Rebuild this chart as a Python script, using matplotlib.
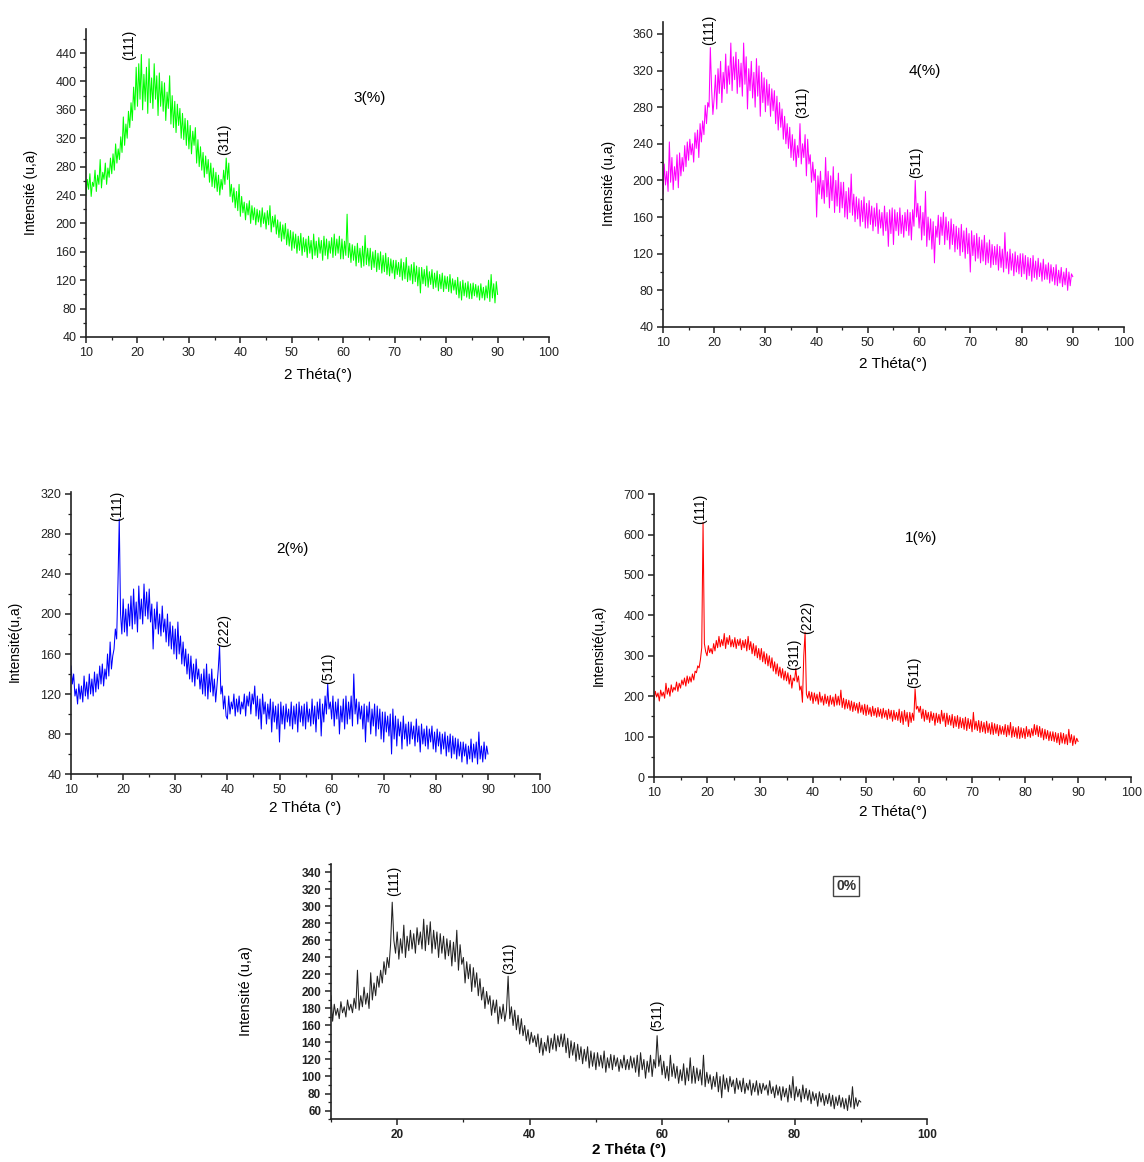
import numpy as np
import matplotlib.pyplot as plt
from matplotlib.ticker import MultipleLocator

plt.rcParams['font.family'] = ['Liberation Sans', 'DejaVu Sans']

# 2 theta grid (deg), one reading every 0.25 deg from 10 to 90
two_theta = np.arange(10, 90.1, 0.25)

# intensities (u.a), one row = 5 deg
i_3pct = [240, 262, 248, 270, 238, 258, 252, 275, 245, 268, 255, 290, 250, 272, 262, 285, 255, 278, 265, 292,
          270, 298, 275, 312, 285, 305, 290, 322, 300, 350, 310, 340, 320, 358, 335, 370, 345, 392, 360, 420,
          365, 425, 375, 438, 360, 410, 372, 420, 355, 432, 370, 405, 362, 425, 375, 408, 352, 412, 365, 400,
          358, 398, 345, 385, 362, 408, 340, 380, 335, 372, 328, 368, 338, 362, 320, 355, 318, 348, 310, 345,
          305, 338, 298, 330, 310, 335, 285, 318, 280, 308, 275, 300, 265, 295, 270, 290, 258, 285, 252, 278,
          250, 272, 245, 268, 240, 262, 248, 275, 255, 292, 262, 285, 238, 255, 230, 250, 222, 245, 218, 255,
          210, 238, 215, 230, 205, 228, 212, 232, 200, 225, 205, 222, 198, 220, 202, 218, 195, 222, 200, 215,
          192, 218, 198, 225, 188, 210, 195, 212, 185, 205, 180, 202, 175, 198, 178, 200, 170, 192, 168, 190,
          162, 188, 165, 185, 158, 182, 162, 186, 155, 180, 160, 178, 152, 182, 158, 176, 150, 185, 155, 175,
          152, 180, 158, 176, 148, 182, 155, 178, 150, 175, 158, 180, 152, 185, 155, 178, 158, 182, 150, 178,
          150, 175, 155, 213, 152, 172, 145, 170, 148, 168, 140, 172, 145, 165, 138, 168, 140, 183, 142, 165,
          140, 165, 135, 160, 138, 162, 132, 158, 135, 160, 130, 155, 132, 158, 128, 152, 126, 150, 130, 148,
          122, 148, 128, 145, 125, 150, 120, 145, 122, 152, 118, 140, 120, 142, 115, 145, 118, 140, 112, 138,
          102, 138, 115, 135, 112, 140, 110, 132, 114, 135, 108, 130, 110, 133, 105, 128, 108, 130, 104, 126,
          108, 125, 104, 128, 102, 122, 106, 120, 100, 124, 95, 118, 92, 120, 98, 116, 96, 118, 94, 115,
          94, 116, 98, 114, 96, 112, 92, 115, 95, 110, 92, 112, 95, 120, 90, 128, 95, 115, 88, 118,
          100]

i_4pct = [185, 218, 195, 210, 188, 242, 198, 225, 190, 215, 200, 228, 192, 230, 205, 225, 210, 238, 215, 242,
          222, 245, 228, 240, 220, 252, 235, 255, 225, 262, 242, 265, 250, 282, 262, 285, 280, 345, 300, 272,
          290, 315, 278, 322, 295, 330, 285, 318, 300, 338, 295, 325, 305, 350, 298, 335, 310, 340, 295, 332,
          302, 328, 292, 350, 305, 335, 278, 322, 298, 330, 290, 318, 280, 333, 292, 325, 270, 318, 285, 312,
          275, 310, 282, 305, 270, 300, 276, 298, 262, 292, 255, 285, 258, 278, 245, 270, 240, 262, 235, 258,
          225, 250, 222, 245, 215, 238, 225, 262, 218, 240, 225, 250, 205, 245, 218, 228, 198, 220, 200, 212,
          160, 205, 185, 210, 180, 200, 175, 225, 182, 210, 170, 205, 178, 215, 165, 200, 172, 208, 165, 198,
          170, 198, 160, 188, 158, 192, 165, 207, 162, 185, 155, 182, 158, 180, 150, 178, 155, 182, 148, 175,
          148, 178, 152, 172, 145, 170, 150, 175, 142, 168, 148, 165, 140, 172, 145, 165, 128, 168, 142, 170,
          130, 168, 145, 165, 140, 170, 142, 162, 138, 165, 145, 168, 140, 165, 135, 168, 150, 200, 160, 175,
          148, 172, 135, 165, 140, 188, 128, 160, 135, 158, 125, 155, 110, 150, 138, 162, 130, 160, 140, 165,
          130, 160, 135, 155, 125, 158, 130, 152, 122, 150, 125, 148, 118, 152, 122, 145, 115, 148, 120, 142,
          100, 145, 118, 140, 112, 142, 115, 138, 110, 135, 112, 140, 108, 132, 110, 135, 105, 130, 108, 128,
          108, 130, 102, 128, 105, 125, 100, 143, 104, 122, 98, 125, 102, 120, 96, 122, 100, 118, 98, 120,
          95, 120, 98, 118, 92, 116, 96, 115, 90, 118, 94, 112, 92, 115, 95, 110, 90, 114, 92, 108,
          92, 110, 88, 108, 90, 105, 86, 108, 85, 102, 88, 105, 84, 100, 86, 104, 80, 100, 85, 98,
          95]

i_2pct = [148, 130, 140, 118, 125, 110, 130, 115, 128, 112, 138, 118, 132, 115, 140, 120, 135, 118, 142, 122,
          140, 125, 148, 130, 150, 128, 145, 135, 160, 138, 172, 145, 158, 165, 185, 175, 230, 295, 200, 180,
          215, 182, 205, 178, 210, 188, 218, 185, 225, 190, 212, 182, 228, 195, 215, 190, 230, 198, 222, 195,
          225, 192, 210, 165, 205, 185, 212, 180, 200, 178, 208, 182, 195, 172, 200, 168, 192, 165, 188, 160,
          185, 155, 192, 160, 178, 150, 172, 148, 165, 140, 160, 135, 158, 132, 150, 128, 155, 135, 145, 125,
          140, 120, 145, 118, 150, 115, 140, 122, 145, 118, 135, 112, 128, 145, 168, 120, 128, 105, 118, 98,
          95, 118, 100, 112, 105, 120, 98, 115, 102, 118, 100, 112, 105, 120, 98, 118, 108, 122, 100, 120,
          110, 128, 98, 118, 95, 115, 85, 120, 100, 112, 90, 110, 95, 115, 82, 112, 92, 108, 85, 110,
          72, 112, 90, 108, 85, 110, 92, 105, 88, 112, 85, 108, 90, 110, 82, 112, 92, 108, 88, 110,
          85, 112, 92, 105, 88, 115, 90, 108, 82, 112, 95, 115, 78, 110, 92, 118, 100, 130, 105, 112,
          95, 118, 88, 112, 95, 115, 80, 108, 92, 115, 85, 118, 90, 112, 95, 118, 88, 140, 100, 115,
          90, 112, 95, 108, 85, 110, 72, 108, 92, 112, 80, 105, 88, 110, 78, 108, 85, 105, 75, 102,
          72, 102, 82, 98, 78, 100, 60, 105, 75, 98, 68, 95, 78, 92, 65, 98, 75, 90, 68, 92,
          70, 92, 75, 88, 68, 95, 72, 88, 62, 90, 70, 85, 68, 88, 65, 85, 72, 88, 65, 82,
          62, 85, 68, 82, 60, 80, 65, 82, 58, 78, 62, 80, 56, 78, 60, 76, 55, 75, 58, 72,
          52, 72, 58, 70, 50, 68, 55, 75, 52, 70, 56, 72, 50, 82, 55, 68, 52, 72, 55, 68,
          60]

i_1pct = [192, 212, 198, 208, 188, 215, 200, 210, 195, 232, 205, 220, 200, 228, 210, 222, 215, 235, 212, 232,
          220, 240, 228, 245, 225, 250, 232, 248, 235, 255, 240, 262, 258, 275, 270, 290, 320, 630, 330, 310,
          300, 325, 308, 318, 305, 330, 312, 338, 320, 348, 322, 340, 325, 355, 318, 345, 328, 350, 322, 340,
          322, 345, 318, 340, 325, 342, 315, 338, 320, 340, 312, 348, 315, 335, 305, 330, 300, 325, 295, 318,
          290, 318, 285, 310, 280, 305, 275, 300, 270, 295, 262, 285, 255, 280, 250, 272, 245, 268, 240, 262,
          238, 258, 230, 252, 220, 245, 238, 268, 235, 250, 215, 225, 185, 300, 358, 205, 195, 212, 190, 210,
          182, 208, 188, 205, 180, 210, 185, 200, 178, 205, 182, 200, 175, 202, 180, 198, 175, 205, 178, 200,
          178, 215, 172, 195, 168, 192, 170, 190, 165, 188, 162, 185, 165, 182, 158, 185, 160, 178, 155, 180,
          152, 178, 155, 172, 150, 175, 152, 170, 148, 172, 150, 168, 145, 170, 148, 165, 142, 168, 145, 165,
          138, 165, 142, 160, 140, 168, 135, 162, 130, 165, 138, 160, 125, 160, 135, 158, 140, 218, 168, 175,
          160, 175, 145, 168, 138, 165, 142, 160, 135, 162, 140, 158, 128, 158, 135, 155, 132, 165, 138, 158,
          125, 158, 130, 152, 128, 155, 122, 150, 125, 152, 120, 148, 122, 145, 118, 148, 115, 145, 120, 142,
          112, 160, 118, 138, 115, 140, 110, 138, 112, 135, 108, 138, 110, 132, 106, 135, 105, 132, 108, 130,
          102, 128, 106, 125, 105, 130, 100, 128, 104, 135, 98, 125, 100, 122, 96, 125, 95, 122, 98, 120,
          95, 125, 100, 118, 98, 120, 102, 130, 105, 128, 100, 125, 98, 120, 92, 118, 95, 115, 90, 112,
          90, 112, 88, 110, 85, 108, 80, 110, 84, 108, 82, 105, 80, 118, 85, 105, 78, 102, 82, 96,
          88]

i_0pct = [195, 165, 185, 172, 180, 168, 188, 175, 182, 170, 190, 178, 185, 175, 192, 180, 225, 178, 195, 182,
          205, 185, 198, 180, 222, 190, 210, 195, 218, 205, 225, 210, 235, 220, 240, 228, 255, 305, 260, 245,
          270, 238, 262, 245, 278, 240, 265, 248, 272, 250, 268, 245, 275, 255, 270, 250, 285, 248, 278, 255,
          282, 245, 272, 250, 270, 240, 268, 245, 265, 238, 262, 242, 260, 230, 258, 235, 272, 225, 255, 232,
          240, 210, 235, 215, 232, 200, 228, 205, 222, 195, 215, 190, 205, 180, 200, 185, 195, 172, 190, 175,
          190, 162, 182, 168, 185, 165, 178, 218, 168, 182, 160, 178, 155, 172, 150, 168, 148, 160, 142, 155,
          138, 152, 140, 148, 135, 150, 128, 145, 125, 140, 130, 148, 128, 145, 132, 150, 130, 148, 135, 150,
          135, 150, 128, 145, 122, 142, 125, 140, 118, 138, 120, 135, 115, 132, 118, 135, 110, 130, 112, 128,
          108, 128, 112, 125, 110, 130, 105, 122, 110, 126, 108, 125, 112, 122, 106, 120, 110, 125, 108, 120,
          108, 124, 110, 122, 105, 125, 100, 128, 108, 120, 98, 118, 105, 125, 100, 120, 110, 148, 112, 125,
          102, 118, 98, 112, 95, 125, 100, 115, 98, 112, 92, 108, 95, 115, 90, 110, 95, 122, 92, 112,
          92, 110, 95, 108, 90, 125, 88, 105, 92, 102, 85, 100, 88, 105, 82, 100, 75, 102, 85, 98,
          82, 100, 88, 96, 80, 98, 85, 95, 82, 98, 80, 92, 84, 96, 78, 92, 82, 95, 78, 92,
          80, 92, 84, 90, 78, 95, 80, 88, 75, 90, 78, 88, 72, 88, 76, 86, 70, 90, 75, 100,
          72, 88, 76, 85, 70, 90, 74, 86, 72, 84, 68, 82, 72, 80, 65, 82, 70, 80, 66, 78,
          68, 80, 65, 78, 62, 76, 66, 78, 64, 75, 62, 74, 60, 78, 64, 88, 62, 75, 65, 72,
          70]

fig = plt.figure(figsize=(11.44, 11.62), dpi=100)


def panel(rect, y, color, ylim, ymaj, ymin, xlabel, ylabel, ylab_x, ylab_y,
          tag, tag_xy, peaks, xmaj=10, xmin=5, bold=False):
    ax = fig.add_axes(rect)
    ax.plot(two_theta, y, color=color, lw=0.75)
    ax.set_xlim(10, 100)
    ax.set_ylim(*ylim)
    ax.xaxis.set_major_locator(MultipleLocator(xmaj))
    ax.xaxis.set_minor_locator(MultipleLocator(xmin))
    ax.yaxis.set_major_locator(MultipleLocator(ymaj))
    ax.yaxis.set_minor_locator(MultipleLocator(ymin))
    for s in ['top', 'right']:
        ax.spines[s].set_visible(False)
    for s in ['left', 'bottom']:
        ax.spines[s].set_linewidth(1.2)
        ax.spines[s].set_color('#222222')
    w = 'bold' if bold else 'normal'
    ax.tick_params(which='major', direction='out', length=4, width=1.1,
                   labelsize=9 if not bold else 8.5, pad=3, colors='#222222')
    ax.tick_params(which='minor', direction='out', length=2.5, width=0.9,
                   colors='#222222')
    for lab in ax.get_xticklabels() + ax.get_yticklabels():
        lab.set_fontweight(w)
    vfam = ['Liberation Sans Narrow', 'Liberation Sans'] if bold else ['Liberation Sans']
    ax.set_xlabel(xlabel, fontsize=11, fontweight=w, va='center')
    ax.xaxis.set_label_coords(0.5, -0.122)
    ax.set_ylabel(ylabel, fontsize=10.5 if bold else 10, va='center', family=vfam)
    ax.yaxis.set_label_coords(ylab_x, ylab_y)
    for name, px, py in peaks:
        ax.text(px, py, name, rotation=90, ha='center', va='center',
                fontsize=10, family=vfam)
    if bold:
        ax.text(tag_xy[0], tag_xy[1], tag, ha='center', va='center', fontsize=10,
                fontweight='bold', color='#333333',
                bbox=dict(boxstyle='square,pad=0.2', fc='white', ec='#444444', lw=1))
    else:
        ax.text(tag_xy[0], tag_xy[1], tag, ha='center', va='center', fontsize=11)
    return ax


panel([0.0752, 0.7100, 0.4047, 0.2651], i_3pct, '#00ff00', (40, 474), 40, 20,
      '2 Théta(°)', 'Intensité (u,a)', -0.119, 0.468,
      '3(%)', (65.2, 377), [('(111)', 18.4, 451), ('(311)', 36.8, 319)])

panel([0.5795, 0.7186, 0.4030, 0.2625], i_4pct, '#ff00ff', (40, 373), 40, 20,
      '2 Théta(°)', 'Intensité (u,a)', -0.117, 0.469,
      '4(%)', (61.2, 319), [('(111)', 19.0, 364), ('(311)', 37.2, 285),
                            ('(511)', 59.5, 220)])

panel([0.0621, 0.3339, 0.4100, 0.2427], i_2pct, '#0000ff', (40, 322), 40, 20,
      '2 Théta (°)', 'Intensité(u,a)', -0.119, 0.472,
      '2(%)', (52.4, 265), [('(111)', 18.8, 308), ('(222)', 39.3, 183),
                            ('(511)', 59.3, 146)])

panel([0.5717, 0.3313, 0.4170, 0.2435], i_1pct, '#ff0000', (0, 700), 100, 50,
      '2 Théta(°)', 'Intensité(u,a)', -0.115, 0.466,
      '1(%)', (60.4, 591), [('(111)', 18.7, 663), ('(311)', 36.4, 303),
                            ('(222)', 38.9, 394), ('(511)', 59.1, 258)])

panel([0.2893, 0.0370, 0.5210, 0.2195], i_0pct, '#222222', (50, 350), 20, 10,
      '2 Théta (°)', 'Intensité (u,a)', -0.143, 0.5,
      '0%', (87.8, 324), [('(111)', 19.5, 330), ('(311)', 36.9, 239),
                          ('(511)', 59.2, 172)],
      xmaj=20, xmin=10, bold=True)

fig.savefig('out.png', dpi=100)
